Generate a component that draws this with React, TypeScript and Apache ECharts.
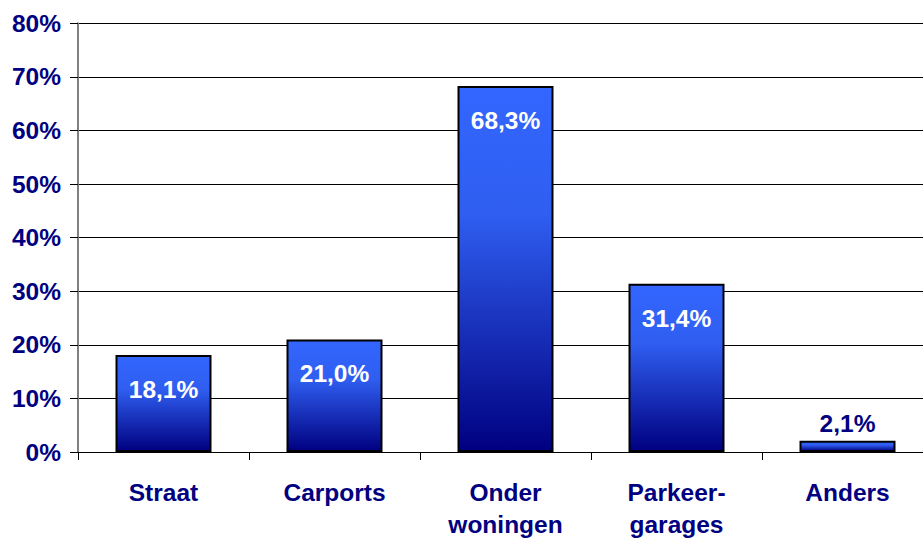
import React, { useEffect, useRef } from "react";
import * as echarts from "echarts";

const categories = ["Straat", "Carports", "Onder\nwoningen", "Parkeer-\ngarages", "Anders"];
const values = [18.1, 21.0, 68.3, 31.4, 2.1];
const yTicks = { min: 0, max: 80, interval: 10 };

const NAVY = "#000080";
const FONT = "'Liberation Sans', Arial, sans-serif";
const FS = 24.5;

export default function App() {
  const ref = useRef<HTMLDivElement>(null);
  useEffect(() => {
    const chart = echarts.init(ref.current!, null, { renderer: "svg" });
    const fmt = (v: number) => v.toFixed(1).replace(".", ",") + "%";
    chart.setOption({
      animation: false,
      grid: { left: 78, top: 23.3, width: 855, height: 430, containLabel: false },
      xAxis: {
        type: "category",
        data: categories,
        axisLine: { show: true, lineStyle: { color: "#000", width: 1 } },
        axisTick: { show: true, alignWithLabel: false, length: 8, lineStyle: { color: "#000" } },
        axisLabel: {
          color: NAVY,
          fontFamily: FONT,
          fontWeight: "bold",
          fontSize: FS,
          margin: 24,
          lineHeight: 32,
          interval: 0,
        },
      },
      yAxis: {
        type: "value",
        min: yTicks.min,
        max: yTicks.max,
        interval: yTicks.interval,
        axisLine: { show: true, lineStyle: { color: "#808080", width: 2 } },
        axisTick: { show: true, length: 8, lineStyle: { color: "#000" } },
        splitLine: { show: true, lineStyle: { color: "#000", width: 1 } },
        axisLabel: {
          color: NAVY,
          fontFamily: FONT,
          fontWeight: "bold",
          fontSize: FS,
          margin: 17,
          formatter: "{value}%",
        },
      },
      series: [
        {
          type: "bar",
          barWidth: 96,
          data: values.map((v) => {
            const small = v < 10;
            return {
              value: v,
              label: small
                ? { position: "top", distance: 5, color: NAVY }
                : { position: "insideTop", distance: 22, color: "#fff" },
            };
          }),
          itemStyle: {
            color: new echarts.graphic.LinearGradient(0, 0, 0, 1, [
              { offset: 0, color: "#3366ff" },
              { offset: 0.35, color: "#2f5ef0" },
              { offset: 1, color: "#000080" },
            ]),
            borderColor: "#000",
            borderWidth: 2,
          },
          label: {
            show: true,
            fontFamily: FONT,
            fontWeight: "bold",
            fontSize: FS,
            formatter: (p: any) => fmt(p.value),
          },
        },
      ],
    });
    return () => chart.dispose();
  }, []);
  return (
    <div style={{ position: "absolute", left: 0, top: 0, width: 923, height: 540, overflow: "hidden" }}>
      <div ref={ref} style={{ width: 950, height: 540 }} />
    </div>
  );
}
